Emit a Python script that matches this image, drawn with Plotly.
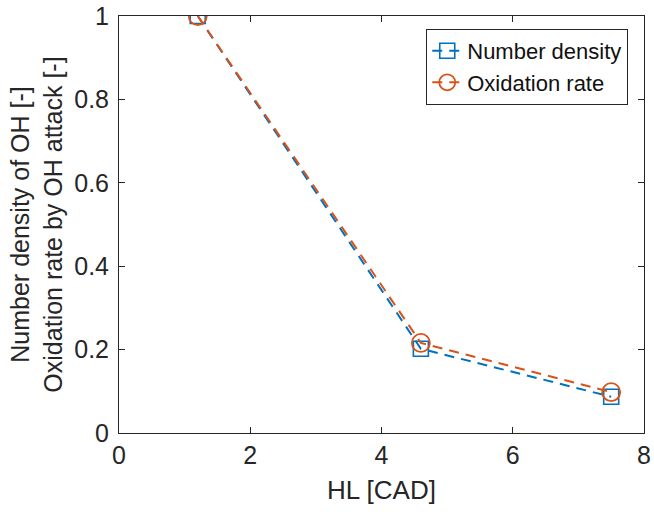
import plotly.graph_objects as go

hl = [1.2, 4.6, 7.5]
number_density = [1.0, 0.202, 0.087]
oxidation_rate = [1.0, 0.216, 0.098]

blue = "#0072BD"
orange = "#D95319"
axis_col = "#262626"

fig = go.Figure()
fig.add_trace(go.Scatter(
    x=hl, y=number_density, name="Number density", mode="lines+markers",
    line=dict(color=blue, width=2, dash="10px,7px"),
    marker=dict(symbol="square-open", size=15, color=blue, line=dict(width=1.6, color=blue)),
))
fig.add_trace(go.Scatter(
    x=hl, y=oxidation_rate, name="Oxidation rate", mode="lines+markers",
    line=dict(color=orange, width=2, dash="10px,7px"),
    marker=dict(symbol="circle-open", size=18, color=orange, line=dict(width=1.8, color=orange)),
))

font_family = "Liberation Sans, Arial, sans-serif"
fig.update_layout(
    width=654, height=514,
    margin=dict(l=119, r=10, t=16, b=81),
    paper_bgcolor="white", plot_bgcolor="white",
    font=dict(family=font_family, size=25, color=axis_col),
    showlegend=True,
    legend=dict(
        x=0.970, y=0.969, xanchor="right", yanchor="top",
        bgcolor="white", bordercolor=axis_col, borderwidth=1,
        font=dict(size=22, color="#111111"),
        tracegroupgap=0, itemwidth=30,
    ),
    xaxis=dict(
        range=[0, 8], tickvals=[0, 2, 4, 6, 8], ticks="inside", ticklen=6,
        tickcolor=axis_col, showline=True, linecolor=axis_col, linewidth=1,
        mirror="allticks", showgrid=False, zeroline=False, automargin=False,
        title=dict(text="HL [CAD]", font=dict(size=26), standoff=12),
        tickfont=dict(size=25),
    ),
    yaxis=dict(
        range=[0, 1], tickvals=[0, 0.2, 0.4, 0.6, 0.8, 1],
        ticktext=["0", "0.2", "0.4", "0.6", "0.8", "1"],
        ticks="inside", ticklen=6, ticklabelstandoff=4,
        tickcolor=axis_col, showline=True, linecolor=axis_col, linewidth=1,
        mirror="allticks", showgrid=False, zeroline=False, automargin=False,
        title=dict(text="Number density of OH [-]<br>Oxidation rate by OH attack [-]", font=dict(size=25), standoff=4),
        tickfont=dict(size=25),
    ),
)

fig.write_html("out.html", config={"displayModeBar": False},
               post_script="document.body.style.margin='0';")
